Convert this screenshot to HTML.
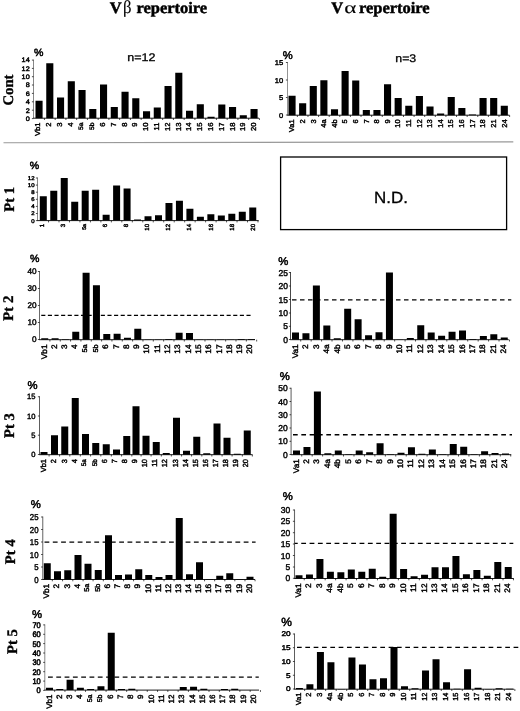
<!DOCTYPE html>
<html lang="en"><head><meta charset="utf-8"><title>V beta and V alpha repertoire</title>
<style>html,body{margin:0;padding:0;background:#fff}body{width:520px;height:711px;overflow:hidden}svg{display:block}.s{font-family:'Liberation Sans', Arial, Helvetica, sans-serif;fill:#000;stroke:#000;stroke-width:.3px}.p{stroke-width:.5px}.b{font-family:'Liberation Serif', 'Times New Roman', Times, serif;font-weight:bold;fill:#000;stroke:#000;stroke-width:.35px}text.t{stroke-width:.45px}.x{font-family:'Liberation Sans', Arial, Helvetica, sans-serif;fill:#000;stroke:#000;stroke-width:.42px}text{text-rendering:geometricPrecision}</style></head><body>
<svg width="520" height="711" viewBox="0 0 520 711" style="filter:blur(.3px)">
<rect width="520" height="711" fill="#fff"/>
<text class="b t" font-size="16" transform="translate(109.7 13.1) scale(1.03 1)">V</text>
<text class="b t" font-size="18" transform="translate(122.9 13.1) scale(0.93 1)" style="font-weight:normal;stroke-width:.12px">β</text>
<text class="b t" font-size="16" transform="translate(136.4 13.1) scale(1.03 1)">repertoire</text>
<text class="b t" font-size="16" transform="translate(331.2 13.1) scale(1.03 1)">V</text>
<text class="b t" font-size="16.5" transform="translate(344.2 13.1) scale(1.4 1)" style="font-weight:normal;stroke-width:.12px">α</text>
<text class="b t" font-size="16" transform="translate(358.9 13.1) scale(1.03 1)">repertoire</text>
<text class="s" font-size="11" transform="translate(127.2 61.2) scale(1.14 1)">n=12</text>
<text class="s" font-size="11" transform="translate(395.3 61.8) scale(1.12 1)">n=3</text>
<path d="M3.5 142.8L513.3 141.9" fill="none" stroke="#999" stroke-width="1.1"/>
<rect x="280.6" y="157" width="226" height="72.6" fill="#fff" stroke="#000" stroke-width="1.3"/>
<text class="s" font-size="16.3" transform="translate(374.1 203) scale(1.04 1)">N.D.</text>
<text class="b" font-size="14.7" text-anchor="middle" transform="translate(13.2 90) rotate(-90)">Cont</text>
<text class="b" font-size="14.7" text-anchor="middle" transform="translate(14.3 199.4) rotate(-90)">Pt 1</text>
<text class="b" font-size="14.7" text-anchor="middle" transform="translate(12.6 308.2) rotate(-90)">Pt 2</text>
<text class="b" font-size="14.7" text-anchor="middle" transform="translate(13.7 425.5) rotate(-90)">Pt 3</text>
<text class="b" font-size="14.7" text-anchor="middle" transform="translate(14.7 551.7) rotate(-90)">Pt 4</text>
<text class="b" font-size="14.7" text-anchor="middle" transform="translate(16.7 641.5) rotate(-90)">Pt 5</text>
<g id="contVb">
<path d="M35.50 118.20H42.60V100.75H35.50ZM46.25 118.20H53.35V63.25H46.25ZM57.00 118.20H64.10V97.50H57.00ZM67.75 118.20H74.85V81.25H67.75ZM78.50 118.20H85.60V90.00H78.50ZM89.25 118.20H96.35V109.00H89.25ZM100.00 118.20H107.10V84.50H100.00ZM110.75 118.20H117.85V107.00H110.75ZM121.50 118.20H128.60V91.75H121.50ZM132.25 118.20H139.35V98.25H132.25ZM143.00 118.20H150.10V111.25H143.00ZM153.75 118.20H160.85V107.50H153.75ZM164.50 118.20H171.60V86.00H164.50ZM175.25 118.20H182.35V72.75H175.25ZM186.00 118.20H193.10V110.75H186.00ZM196.75 118.20H203.85V104.25H196.75ZM207.50 118.20H214.60V116.75H207.50ZM218.25 118.20H225.35V104.50H218.25ZM229.00 118.20H236.10V107.00H229.00ZM239.75 118.20H246.85V115.25H239.75ZM250.50 118.20H257.60V109.00H250.50Z" fill="#000"/>
<path d="M33.50 59.60V118.20" fill="none" stroke="#555" stroke-width="0.7"/>
<path d="M33.20 118.20H259.00" fill="none" stroke="#000" stroke-width="0.9"/>
<path d="M33.50 60.10h-1.6M33.50 68.40h-1.6M33.50 76.70h-1.6M33.50 85.00h-1.6M33.50 93.40h-1.6M33.50 101.80h-1.6M33.50 110.20h-1.6M33.50 118.60h-1.6M44.43 118.20v1.8M55.18 118.20v1.8M65.92 118.20v1.8M76.67 118.20v1.8M87.42 118.20v1.8M98.17 118.20v1.8M108.92 118.20v1.8M119.67 118.20v1.8M130.42 118.20v1.8M141.17 118.20v1.8M151.92 118.20v1.8M162.67 118.20v1.8M173.42 118.20v1.8M184.17 118.20v1.8M194.92 118.20v1.8M205.67 118.20v1.8M216.42 118.20v1.8M227.17 118.20v1.8M237.92 118.20v1.8M248.67 118.20v1.8M259.43 118.20v1.8" fill="none" stroke="#000" stroke-width="0.7"/>
<text class="x" font-size="6.5" text-anchor="end" transform="translate(29.7 62.44) scale(1.12 1)">14</text>
<text class="x" font-size="6.5" text-anchor="end" transform="translate(29.7 70.74) scale(1.12 1)">12</text>
<text class="x" font-size="6.5" text-anchor="end" transform="translate(29.7 79.04) scale(1.12 1)">10</text>
<text class="x" font-size="6.5" text-anchor="end" transform="translate(29.7 87.34) scale(1.12 1)">8</text>
<text class="x" font-size="6.5" text-anchor="end" transform="translate(29.7 95.74) scale(1.12 1)">6</text>
<text class="x" font-size="6.5" text-anchor="end" transform="translate(29.7 104.14) scale(1.12 1)">4</text>
<text class="x" font-size="6.5" text-anchor="end" transform="translate(29.7 112.54) scale(1.12 1)">2</text>
<text class="x" font-size="6.5" text-anchor="end" transform="translate(29.7 120.94) scale(1.12 1)">0</text>
<text class="s p" x="34.1" y="56.3" font-size="10.6">%</text>
<text class="x" font-size="7.2" text-anchor="end" transform="translate(40.08 122.50) rotate(-90) scale(1.06 1)">Vb1</text>
<text class="x" font-size="7.2" text-anchor="end" transform="translate(50.89 122.50) rotate(-90) scale(1.06 1)">2</text>
<text class="x" font-size="7.2" text-anchor="end" transform="translate(61.70 122.50) rotate(-90) scale(1.06 1)">3</text>
<text class="x" font-size="7.2" text-anchor="end" transform="translate(72.51 122.50) rotate(-90) scale(1.06 1)">4</text>
<text class="x" font-size="6.336" text-anchor="end" transform="translate(83.01 122.50) rotate(-90) scale(1.06 1)">5a</text>
<text class="x" font-size="6.336" text-anchor="end" transform="translate(93.82 122.50) rotate(-90) scale(1.06 1)">5b</text>
<text class="x" font-size="7.2" text-anchor="end" transform="translate(104.94 122.50) rotate(-90) scale(1.06 1)">6</text>
<text class="x" font-size="7.2" text-anchor="end" transform="translate(115.75 122.50) rotate(-90) scale(1.06 1)">7</text>
<text class="x" font-size="7.2" text-anchor="end" transform="translate(126.56 122.50) rotate(-90) scale(1.06 1)">8</text>
<text class="x" font-size="7.2" text-anchor="end" transform="translate(137.37 122.50) rotate(-90) scale(1.06 1)">9</text>
<text class="x" font-size="7.2" text-anchor="end" transform="translate(148.18 122.50) rotate(-90) scale(1.06 1)">10</text>
<text class="x" font-size="7.2" text-anchor="end" transform="translate(158.99 122.50) rotate(-90) scale(1.06 1)">11</text>
<text class="x" font-size="7.2" text-anchor="end" transform="translate(169.80 122.50) rotate(-90) scale(1.06 1)">12</text>
<text class="x" font-size="7.2" text-anchor="end" transform="translate(180.61 122.50) rotate(-90) scale(1.06 1)">13</text>
<text class="x" font-size="7.2" text-anchor="end" transform="translate(191.42 122.50) rotate(-90) scale(1.06 1)">14</text>
<text class="x" font-size="7.2" text-anchor="end" transform="translate(202.23 122.50) rotate(-90) scale(1.06 1)">15</text>
<text class="x" font-size="7.2" text-anchor="end" transform="translate(213.04 122.50) rotate(-90) scale(1.06 1)">16</text>
<text class="x" font-size="7.2" text-anchor="end" transform="translate(223.85 122.50) rotate(-90) scale(1.06 1)">17</text>
<text class="x" font-size="7.2" text-anchor="end" transform="translate(234.66 122.50) rotate(-90) scale(1.06 1)">18</text>
<text class="x" font-size="7.2" text-anchor="end" transform="translate(245.47 122.50) rotate(-90) scale(1.06 1)">19</text>
<text class="x" font-size="7.2" text-anchor="end" transform="translate(256.28 122.50) rotate(-90) scale(1.06 1)">20</text>
</g>
<g id="contVa">
<path d="M288.50 115.20H295.60V95.75H288.50ZM299.11 115.20H306.21V103.25H299.11ZM309.73 115.20H316.83V86.00H309.73ZM320.34 115.20H327.44V80.25H320.34ZM330.95 115.20H338.05V109.25H330.95ZM341.56 115.20H348.66V71.00H341.56ZM352.18 115.20H359.28V80.50H352.18ZM362.79 115.20H369.89V110.00H362.79ZM373.40 115.20H380.50V110.00H373.40ZM384.01 115.20H391.11V84.25H384.01ZM394.62 115.20H401.73V98.00H394.62ZM405.24 115.20H412.34V105.75H405.24ZM415.85 115.20H422.95V96.00H415.85ZM426.46 115.20H433.56V106.50H426.46ZM437.07 115.20H444.18V113.50H437.07ZM447.69 115.20H454.79V97.00H447.69ZM458.30 115.20H465.40V108.00H458.30ZM468.91 115.20H476.01V114.60H468.91ZM479.52 115.20H486.62V98.00H479.52ZM490.14 115.20H497.24V98.00H490.14ZM500.75 115.20H507.85V105.75H500.75Z" fill="#000"/>
<path d="M287.50 62.00V115.20" fill="none" stroke="#666" stroke-width="0.7"/>
<path d="M287.20 115.20H509.50" fill="none" stroke="#000" stroke-width="0.9"/>
<path d="M287.50 62.50h-1.6M287.50 80.00h-1.6M287.50 97.50h-1.6M287.50 115.00h-1.6M297.36 115.20v1.8M307.97 115.20v1.8M318.58 115.20v1.8M329.19 115.20v1.8M339.81 115.20v1.8M350.42 115.20v1.8M361.03 115.20v1.8M371.64 115.20v1.8M382.26 115.20v1.8M392.87 115.20v1.8M403.48 115.20v1.8M414.09 115.20v1.8M424.71 115.20v1.8M435.32 115.20v1.8M445.93 115.20v1.8M456.54 115.20v1.8M467.16 115.20v1.8M477.77 115.20v1.8M488.38 115.20v1.8M498.99 115.20v1.8M509.61 115.20v1.8" fill="none" stroke="#000" stroke-width="0.7"/>
<text class="x" font-size="7" text-anchor="end" transform="translate(283.2 65.02) scale(1.08 1)">15</text>
<text class="x" font-size="7" text-anchor="end" transform="translate(283.2 82.52) scale(1.08 1)">10</text>
<text class="x" font-size="7" text-anchor="end" transform="translate(283.2 100.02) scale(1.08 1)">5</text>
<text class="x" font-size="7" text-anchor="end" transform="translate(283.2 117.52) scale(1.08 1)">0</text>
<text class="s p" x="282.7" y="59" font-size="11.2">%</text>
<text class="x" font-size="7.1" text-anchor="end" transform="translate(294.29 119.30) rotate(-90) scale(1.06 1)">Va1</text>
<text class="x" font-size="7.1" text-anchor="end" transform="translate(304.90 119.30) rotate(-90) scale(1.06 1)">2</text>
<text class="x" font-size="7.1" text-anchor="end" transform="translate(315.52 119.30) rotate(-90) scale(1.06 1)">3</text>
<text class="x" font-size="7.1" text-anchor="end" transform="translate(326.13 119.30) rotate(-90) scale(1.06 1)">4a</text>
<text class="x" font-size="7.1" text-anchor="end" transform="translate(336.74 119.30) rotate(-90) scale(1.06 1)">4b</text>
<text class="x" font-size="7.1" text-anchor="end" transform="translate(347.35 119.30) rotate(-90) scale(1.06 1)">5</text>
<text class="x" font-size="7.1" text-anchor="end" transform="translate(357.97 119.30) rotate(-90) scale(1.06 1)">6</text>
<text class="x" font-size="7.1" text-anchor="end" transform="translate(368.58 119.30) rotate(-90) scale(1.06 1)">7</text>
<text class="x" font-size="7.1" text-anchor="end" transform="translate(379.19 119.30) rotate(-90) scale(1.06 1)">8</text>
<text class="x" font-size="7.1" text-anchor="end" transform="translate(389.80 119.30) rotate(-90) scale(1.06 1)">9</text>
<text class="x" font-size="7.1" text-anchor="end" transform="translate(400.42 119.30) rotate(-90) scale(1.06 1)">10</text>
<text class="x" font-size="7.1" text-anchor="end" transform="translate(411.03 119.30) rotate(-90) scale(1.06 1)">11</text>
<text class="x" font-size="7.1" text-anchor="end" transform="translate(421.64 119.30) rotate(-90) scale(1.06 1)">12</text>
<text class="x" font-size="7.1" text-anchor="end" transform="translate(432.25 119.30) rotate(-90) scale(1.06 1)">13</text>
<text class="x" font-size="7.1" text-anchor="end" transform="translate(442.87 119.30) rotate(-90) scale(1.06 1)">14</text>
<text class="x" font-size="7.1" text-anchor="end" transform="translate(453.48 119.30) rotate(-90) scale(1.06 1)">15</text>
<text class="x" font-size="7.1" text-anchor="end" transform="translate(464.09 119.30) rotate(-90) scale(1.06 1)">16</text>
<text class="x" font-size="7.1" text-anchor="end" transform="translate(474.70 119.30) rotate(-90) scale(1.06 1)">17</text>
<text class="x" font-size="7.1" text-anchor="end" transform="translate(485.32 119.30) rotate(-90) scale(1.06 1)">18</text>
<text class="x" font-size="7.1" text-anchor="end" transform="translate(495.93 119.30) rotate(-90) scale(1.06 1)">21</text>
<text class="x" font-size="7.1" text-anchor="end" transform="translate(506.54 119.30) rotate(-90) scale(1.06 1)">24</text>
</g>
<g id="pt1Vb">
<path d="M39.80 220.60H46.80V196.25H39.80ZM50.27 220.60H57.27V190.75H50.27ZM60.74 220.60H67.75V178.00H60.74ZM71.22 220.60H78.22V201.75H71.22ZM81.69 220.60H88.69V190.75H81.69ZM92.16 220.60H99.16V189.75H92.16ZM102.63 220.60H109.63V214.75H102.63ZM113.11 220.60H120.11V185.50H113.11ZM123.58 220.60H130.58V188.50H123.58ZM134.05 220.60H141.05V219.60H134.05ZM144.52 220.60H151.52V216.25H144.52ZM155.00 220.60H162.00V215.25H155.00ZM165.47 220.60H172.47V203.00H165.47ZM175.94 220.60H182.94V200.75H175.94ZM186.41 220.60H193.41V208.75H186.41ZM196.89 220.60H203.89V216.75H196.89ZM207.36 220.60H214.36V214.25H207.36ZM217.83 220.60H224.83V215.50H217.83ZM228.31 220.60H235.31V213.75H228.31ZM238.78 220.60H245.78V211.75H238.78ZM249.25 220.60H256.25V207.50H249.25Z" fill="#000"/>
<path d="M37.50 177.50V220.60" fill="none" stroke="#555" stroke-width="0.7"/>
<path d="M37.20 220.60H258.70" fill="none" stroke="#000" stroke-width="0.9"/>
<path d="M37.50 178.00h-1.6M37.50 185.10h-1.6M37.50 192.20h-1.6M37.50 199.30h-1.6M37.50 206.40h-1.6M37.50 213.50h-1.6M37.50 220.60h-1.6M48.54 220.60v1.8M59.01 220.60v1.8M69.48 220.60v1.8M79.95 220.60v1.8M90.43 220.60v1.8M100.90 220.60v1.8M111.37 220.60v1.8M121.84 220.60v1.8M132.32 220.60v1.8M142.79 220.60v1.8M153.26 220.60v1.8M163.73 220.60v1.8M174.21 220.60v1.8M184.68 220.60v1.8M195.15 220.60v1.8M205.62 220.60v1.8M216.10 220.60v1.8M226.57 220.60v1.8M237.04 220.60v1.8M247.51 220.60v1.8M257.99 220.60v1.8" fill="none" stroke="#000" stroke-width="0.7"/>
<text class="x" font-size="5.5" text-anchor="end" transform="translate(34.6 179.98) scale(1.1 1)">12</text>
<text class="x" font-size="5.5" text-anchor="end" transform="translate(34.6 187.08) scale(1.1 1)">10</text>
<text class="x" font-size="5.5" text-anchor="end" transform="translate(34.6 194.18) scale(1.1 1)">8</text>
<text class="x" font-size="5.5" text-anchor="end" transform="translate(34.6 201.28) scale(1.1 1)">6</text>
<text class="x" font-size="5.5" text-anchor="end" transform="translate(34.6 208.38) scale(1.1 1)">4</text>
<text class="x" font-size="5.5" text-anchor="end" transform="translate(34.6 215.48) scale(1.1 1)">2</text>
<text class="x" font-size="5.5" text-anchor="end" transform="translate(34.6 222.58) scale(1.1 1)">0</text>
<text class="s p" x="29.7" y="169.2" font-size="10.6">%</text>
<text class="x" font-size="6.1" text-anchor="end" transform="translate(43.98 223.90) rotate(-90) scale(1 1)">1</text>
<text class="x" font-size="6.1" text-anchor="end" transform="translate(65.05 223.90) rotate(-90) scale(1 1)">3</text>
<text class="x" font-size="5.368" text-anchor="end" transform="translate(85.86 223.90) rotate(-90) scale(1 1)">5a</text>
<text class="x" font-size="6.1" text-anchor="end" transform="translate(107.19 223.90) rotate(-90) scale(1 1)">6</text>
<text class="x" font-size="6.1" text-anchor="end" transform="translate(128.26 223.90) rotate(-90) scale(1 1)">8</text>
<text class="x" font-size="6.1" text-anchor="end" transform="translate(149.33 223.90) rotate(-90) scale(1 1)">10</text>
<text class="x" font-size="6.1" text-anchor="end" transform="translate(170.40 223.90) rotate(-90) scale(1 1)">12</text>
<text class="x" font-size="6.1" text-anchor="end" transform="translate(191.47 223.90) rotate(-90) scale(1 1)">14</text>
<text class="x" font-size="6.1" text-anchor="end" transform="translate(212.54 223.90) rotate(-90) scale(1 1)">16</text>
<text class="x" font-size="6.1" text-anchor="end" transform="translate(233.61 223.90) rotate(-90) scale(1 1)">18</text>
<text class="x" font-size="6.1" text-anchor="end" transform="translate(254.68 223.90) rotate(-90) scale(1 1)">20</text>
</g>
<g id="pt2Vb">
<path d="M41.25 339.70H48.25V338.25H41.25ZM51.59 339.70H58.59V338.25H51.59ZM61.92 339.70H68.92V339.20H61.92ZM72.26 339.70H79.26V331.75H72.26ZM82.60 339.70H89.60V272.75H82.60ZM92.94 339.70H99.94V285.25H92.94ZM103.28 339.70H110.28V334.00H103.28ZM113.61 339.70H120.61V333.75H113.61ZM123.95 339.70H130.95V337.75H123.95ZM134.29 339.70H141.29V328.75H134.29ZM144.62 339.70H151.62V339.50H144.62ZM154.96 339.70H161.96V339.50H154.96ZM165.30 339.70H172.30V339.00H165.30ZM175.64 339.70H182.64V332.75H175.64ZM185.97 339.70H192.97V333.00H185.97ZM196.31 339.70H203.31V339.50H196.31ZM206.65 339.70H213.65V339.50H206.65ZM216.99 339.70H223.99V339.50H216.99ZM227.32 339.70H234.32V339.50H227.32ZM237.66 339.70H244.66V339.00H237.66ZM248.00 339.70H255.00V339.00H248.00Z" fill="#000"/>
<path d="M39.50 271.00V339.70" fill="none" stroke="#444" stroke-width="0.8"/>
<path d="M39.20 339.70H255.00" fill="none" stroke="#000" stroke-width="0.9"/>
<path d="M39.50 271.50h-1.6M39.50 288.50h-1.6M39.50 305.50h-1.6M39.50 322.50h-1.6M39.50 339.50h-1.6M49.92 339.70v1.8M60.26 339.70v1.8M70.59 339.70v1.8M80.93 339.70v1.8M91.27 339.70v1.8M101.61 339.70v1.8M111.94 339.70v1.8M122.28 339.70v1.8M132.62 339.70v1.8M142.96 339.70v1.8M153.29 339.70v1.8M163.63 339.70v1.8M173.97 339.70v1.8M184.31 339.70v1.8M194.64 339.70v1.8M204.98 339.70v1.8M215.32 339.70v1.8M225.66 339.70v1.8M235.99 339.70v1.8M246.33 339.70v1.8M256.67 339.70v1.8" fill="none" stroke="#000" stroke-width="0.7"/>
<text class="x" font-size="8.2" text-anchor="end" transform="translate(36.5 274.45) scale(1 1)">40</text>
<text class="x" font-size="8.2" text-anchor="end" transform="translate(36.5 291.45) scale(1 1)">30</text>
<text class="x" font-size="8.2" text-anchor="end" transform="translate(36.5 308.45) scale(1 1)">20</text>
<text class="x" font-size="8.2" text-anchor="end" transform="translate(36.5 325.45) scale(1 1)">10</text>
<text class="x" font-size="8.2" text-anchor="end" transform="translate(36.5 342.45) scale(1 1)">0</text>
<text class="s p" x="29.9" y="262.1" font-size="10.6">%</text>
<text class="x" font-size="8" text-anchor="end" transform="translate(46.61 344.50) rotate(-90) scale(1.03 1)">Vb1</text>
<text class="x" font-size="8" text-anchor="end" transform="translate(56.90 344.50) rotate(-90) scale(1.03 1)">2</text>
<text class="x" font-size="8" text-anchor="end" transform="translate(67.19 344.50) rotate(-90) scale(1.03 1)">3</text>
<text class="x" font-size="8" text-anchor="end" transform="translate(77.48 344.50) rotate(-90) scale(1.03 1)">4</text>
<text class="x" font-size="7.04" text-anchor="end" transform="translate(87.42 344.50) rotate(-90) scale(1.03 1)">5a</text>
<text class="x" font-size="7.04" text-anchor="end" transform="translate(97.71 344.50) rotate(-90) scale(1.03 1)">5b</text>
<text class="x" font-size="8" text-anchor="end" transform="translate(108.34 344.50) rotate(-90) scale(1.03 1)">6</text>
<text class="x" font-size="8" text-anchor="end" transform="translate(118.63 344.50) rotate(-90) scale(1.03 1)">7</text>
<text class="x" font-size="8" text-anchor="end" transform="translate(128.91 344.50) rotate(-90) scale(1.03 1)">8</text>
<text class="x" font-size="8" text-anchor="end" transform="translate(139.20 344.50) rotate(-90) scale(1.03 1)">9</text>
<text class="x" font-size="8" text-anchor="end" transform="translate(149.49 344.50) rotate(-90) scale(1.03 1)">10</text>
<text class="x" font-size="8" text-anchor="end" transform="translate(159.78 344.50) rotate(-90) scale(1.03 1)">11</text>
<text class="x" font-size="8" text-anchor="end" transform="translate(170.06 344.50) rotate(-90) scale(1.03 1)">12</text>
<text class="x" font-size="8" text-anchor="end" transform="translate(180.35 344.50) rotate(-90) scale(1.03 1)">13</text>
<text class="x" font-size="8" text-anchor="end" transform="translate(190.64 344.50) rotate(-90) scale(1.03 1)">14</text>
<text class="x" font-size="8" text-anchor="end" transform="translate(200.93 344.50) rotate(-90) scale(1.03 1)">15</text>
<text class="x" font-size="8" text-anchor="end" transform="translate(211.21 344.50) rotate(-90) scale(1.03 1)">16</text>
<text class="x" font-size="8" text-anchor="end" transform="translate(221.50 344.50) rotate(-90) scale(1.03 1)">17</text>
<text class="x" font-size="8" text-anchor="end" transform="translate(231.79 344.50) rotate(-90) scale(1.03 1)">18</text>
<text class="x" font-size="8" text-anchor="end" transform="translate(242.08 344.50) rotate(-90) scale(1.03 1)">19</text>
<text class="x" font-size="8" text-anchor="end" transform="translate(252.36 344.50) rotate(-90) scale(1.03 1)">20</text>
<path d="M41.25 315.40H251.80" fill="none" stroke="#000" stroke-width="1.3" stroke-dasharray="4.1 2.52" stroke-dashoffset="0.00"/>
</g>
<g id="pt2Va">
<path d="M292.00 339.70H299.00V332.50H292.00ZM302.44 339.70H309.44V333.25H302.44ZM312.88 339.70H319.88V285.50H312.88ZM323.31 339.70H330.31V325.50H323.31ZM333.75 339.70H340.75V338.25H333.75ZM344.19 339.70H351.19V308.75H344.19ZM354.62 339.70H361.62V319.25H354.62ZM365.06 339.70H372.06V335.25H365.06ZM375.50 339.70H382.50V332.25H375.50ZM385.94 339.70H392.94V272.50H385.94ZM396.38 339.70H403.38V339.40H396.38ZM406.81 339.70H413.81V338.00H406.81ZM417.25 339.70H424.25V325.25H417.25ZM427.69 339.70H434.69V332.50H427.69ZM438.12 339.70H445.12V335.75H438.12ZM448.56 339.70H455.56V331.75H448.56ZM459.00 339.70H466.00V330.50H459.00ZM469.44 339.70H476.44V339.00H469.44ZM479.88 339.70H486.88V336.00H479.88ZM490.31 339.70H497.31V334.25H490.31ZM500.75 339.70H507.75V337.50H500.75Z" fill="#000"/>
<path d="M290.50 272.00V339.70" fill="none" stroke="#333" stroke-width="0.9"/>
<path d="M290.20 339.70H508.75" fill="none" stroke="#000" stroke-width="0.9"/>
<path d="M290.50 272.50h-1.6M290.50 286.00h-1.6M290.50 299.50h-1.6M290.50 313.00h-1.6M290.50 326.30h-1.6M290.50 339.50h-1.6M300.72 339.70v1.8M311.16 339.70v1.8M321.59 339.70v1.8M332.03 339.70v1.8M342.47 339.70v1.8M352.91 339.70v1.8M363.34 339.70v1.8M373.78 339.70v1.8M384.22 339.70v1.8M394.66 339.70v1.8M405.09 339.70v1.8M415.53 339.70v1.8M425.97 339.70v1.8M436.41 339.70v1.8M446.84 339.70v1.8M457.28 339.70v1.8M467.72 339.70v1.8M478.16 339.70v1.8M488.59 339.70v1.8M499.03 339.70v1.8M509.47 339.70v1.8" fill="none" stroke="#000" stroke-width="0.7"/>
<text class="x" font-size="8.5" text-anchor="end" transform="translate(288 275.56) scale(1 1)">25</text>
<text class="x" font-size="8.5" text-anchor="end" transform="translate(288 289.06) scale(1 1)">20</text>
<text class="x" font-size="8.5" text-anchor="end" transform="translate(288 302.56) scale(1 1)">15</text>
<text class="x" font-size="8.5" text-anchor="end" transform="translate(288 316.06) scale(1 1)">10</text>
<text class="x" font-size="8.5" text-anchor="end" transform="translate(288 329.36) scale(1 1)">5</text>
<text class="x" font-size="8.5" text-anchor="end" transform="translate(288 342.56) scale(1 1)">0</text>
<text class="s p" x="278.3" y="265.1" font-size="11.3">%</text>
<text class="x" font-size="8" text-anchor="end" transform="translate(298.06 344.30) rotate(-90) scale(1.03 1)">Va1</text>
<text class="x" font-size="8" text-anchor="end" transform="translate(308.47 344.30) rotate(-90) scale(1.03 1)">2</text>
<text class="x" font-size="8" text-anchor="end" transform="translate(318.87 344.30) rotate(-90) scale(1.03 1)">3</text>
<text class="x" font-size="8" text-anchor="end" transform="translate(329.27 344.30) rotate(-90) scale(1.03 1)">4a</text>
<text class="x" font-size="8" text-anchor="end" transform="translate(339.67 344.30) rotate(-90) scale(1.03 1)">4b</text>
<text class="x" font-size="8" text-anchor="end" transform="translate(350.08 344.30) rotate(-90) scale(1.03 1)">5</text>
<text class="x" font-size="8" text-anchor="end" transform="translate(360.48 344.30) rotate(-90) scale(1.03 1)">6</text>
<text class="x" font-size="8" text-anchor="end" transform="translate(370.88 344.30) rotate(-90) scale(1.03 1)">7</text>
<text class="x" font-size="8" text-anchor="end" transform="translate(381.28 344.30) rotate(-90) scale(1.03 1)">8</text>
<text class="x" font-size="8" text-anchor="end" transform="translate(391.69 344.30) rotate(-90) scale(1.03 1)">9</text>
<text class="x" font-size="8" text-anchor="end" transform="translate(402.09 344.30) rotate(-90) scale(1.03 1)">10</text>
<text class="x" font-size="8" text-anchor="end" transform="translate(412.49 344.30) rotate(-90) scale(1.03 1)">11</text>
<text class="x" font-size="8" text-anchor="end" transform="translate(422.89 344.30) rotate(-90) scale(1.03 1)">12</text>
<text class="x" font-size="8" text-anchor="end" transform="translate(433.30 344.30) rotate(-90) scale(1.03 1)">13</text>
<text class="x" font-size="8" text-anchor="end" transform="translate(443.70 344.30) rotate(-90) scale(1.03 1)">14</text>
<text class="x" font-size="8" text-anchor="end" transform="translate(454.10 344.30) rotate(-90) scale(1.03 1)">15</text>
<text class="x" font-size="8" text-anchor="end" transform="translate(464.50 344.30) rotate(-90) scale(1.03 1)">16</text>
<text class="x" font-size="8" text-anchor="end" transform="translate(474.91 344.30) rotate(-90) scale(1.03 1)">17</text>
<text class="x" font-size="8" text-anchor="end" transform="translate(485.31 344.30) rotate(-90) scale(1.03 1)">18</text>
<text class="x" font-size="8" text-anchor="end" transform="translate(495.71 344.30) rotate(-90) scale(1.03 1)">21</text>
<text class="x" font-size="8" text-anchor="end" transform="translate(506.11 344.30) rotate(-90) scale(1.03 1)">24</text>
<path d="M292.00 299.90H511.30" fill="none" stroke="#000" stroke-width="1.3" stroke-dasharray="4.5 3.5" stroke-dashoffset="0.00"/>
</g>
<g id="pt3Vb">
<path d="M40.50 454.70H47.50V452.00H40.50ZM51.00 454.70H58.00V435.25H51.00ZM61.25 454.70H68.25V426.50H61.25ZM71.75 454.70H78.75V398.00H71.75ZM82.00 454.70H89.00V434.00H82.00ZM92.25 454.70H99.25V443.00H92.25ZM102.75 454.70H109.75V444.25H102.75ZM113.00 454.70H120.00V449.50H113.00ZM123.25 454.70H130.25V436.00H123.25ZM132.50 454.70H139.50V406.25H132.50ZM142.50 454.70H149.50V435.75H142.50ZM152.75 454.70H159.75V442.00H152.75ZM162.75 454.70H169.75V453.00H162.75ZM173.00 454.70H180.00V417.75H173.00ZM183.00 454.70H190.00V450.75H183.00ZM193.25 454.70H200.25V436.75H193.25ZM203.25 454.70H210.25V453.25H203.25ZM213.50 454.70H220.50V423.50H213.50ZM223.50 454.70H230.50V437.75H223.50ZM233.75 454.70H240.75V453.75H233.75ZM243.75 454.70H250.75V430.50H243.75Z" fill="#000"/>
<path d="M39.50 396.25V454.70" fill="none" stroke="#333" stroke-width="0.8"/>
<path d="M39.20 454.70H252.50" fill="none" stroke="#000" stroke-width="0.9"/>
<path d="M39.50 396.75h-1.6M39.50 416.00h-1.6M39.50 435.20h-1.6M39.50 454.50h-1.6M49.08 454.70v1.8M59.58 454.70v1.8M69.83 454.70v1.8M80.33 454.70v1.8M90.58 454.70v1.8M100.83 454.70v1.8M111.33 454.70v1.8M121.58 454.70v1.8M131.83 454.70v1.8M141.08 454.70v1.8M151.08 454.70v1.8M161.33 454.70v1.8M171.33 454.70v1.8M181.58 454.70v1.8M191.58 454.70v1.8M201.83 454.70v1.8M211.83 454.70v1.8M222.08 454.70v1.8M232.08 454.70v1.8M242.33 454.70v1.8M252.33 454.70v1.8" fill="none" stroke="#000" stroke-width="0.7"/>
<text class="x" font-size="7.6" text-anchor="end" transform="translate(35.4 399.49) scale(1 1)">15</text>
<text class="x" font-size="7.6" text-anchor="end" transform="translate(35.4 418.74) scale(1 1)">10</text>
<text class="x" font-size="7.6" text-anchor="end" transform="translate(35.4 437.94) scale(1 1)">5</text>
<text class="x" font-size="7.6" text-anchor="end" transform="translate(35.4 457.24) scale(1 1)">0</text>
<text class="s p" x="27.5" y="388.9" font-size="11.3">%</text>
<text class="x" font-size="7.4" text-anchor="end" transform="translate(46.40 459.10) rotate(-90) scale(1 1)">Vb1</text>
<text class="x" font-size="7.4" text-anchor="end" transform="translate(56.49 459.10) rotate(-90) scale(1 1)">2</text>
<text class="x" font-size="7.4" text-anchor="end" transform="translate(66.57 459.10) rotate(-90) scale(1 1)">3</text>
<text class="x" font-size="7.4" text-anchor="end" transform="translate(76.66 459.10) rotate(-90) scale(1 1)">4</text>
<text class="x" font-size="6.512" text-anchor="end" transform="translate(86.43 459.10) rotate(-90) scale(1 1)">5a</text>
<text class="x" font-size="6.512" text-anchor="end" transform="translate(96.52 459.10) rotate(-90) scale(1 1)">5b</text>
<text class="x" font-size="7.4" text-anchor="end" transform="translate(106.92 459.10) rotate(-90) scale(1 1)">6</text>
<text class="x" font-size="7.4" text-anchor="end" transform="translate(117.01 459.10) rotate(-90) scale(1 1)">7</text>
<text class="x" font-size="7.4" text-anchor="end" transform="translate(127.10 459.10) rotate(-90) scale(1 1)">8</text>
<text class="x" font-size="7.4" text-anchor="end" transform="translate(137.19 459.10) rotate(-90) scale(1 1)">9</text>
<text class="x" font-size="7.4" text-anchor="end" transform="translate(147.27 459.10) rotate(-90) scale(1 1)">10</text>
<text class="x" font-size="7.4" text-anchor="end" transform="translate(157.36 459.10) rotate(-90) scale(1 1)">11</text>
<text class="x" font-size="7.4" text-anchor="end" transform="translate(167.45 459.10) rotate(-90) scale(1 1)">12</text>
<text class="x" font-size="7.4" text-anchor="end" transform="translate(177.54 459.10) rotate(-90) scale(1 1)">13</text>
<text class="x" font-size="7.4" text-anchor="end" transform="translate(187.62 459.10) rotate(-90) scale(1 1)">14</text>
<text class="x" font-size="7.4" text-anchor="end" transform="translate(197.71 459.10) rotate(-90) scale(1 1)">15</text>
<text class="x" font-size="7.4" text-anchor="end" transform="translate(207.80 459.10) rotate(-90) scale(1 1)">16</text>
<text class="x" font-size="7.4" text-anchor="end" transform="translate(217.89 459.10) rotate(-90) scale(1 1)">17</text>
<text class="x" font-size="7.4" text-anchor="end" transform="translate(227.97 459.10) rotate(-90) scale(1 1)">18</text>
<text class="x" font-size="7.4" text-anchor="end" transform="translate(238.06 459.10) rotate(-90) scale(1 1)">19</text>
<text class="x" font-size="7.4" text-anchor="end" transform="translate(248.15 459.10) rotate(-90) scale(1 1)">20</text>
</g>
<g id="pt3Va">
<path d="M293.00 454.70H300.00V450.50H293.00ZM303.45 454.70H310.45V447.00H303.45ZM313.90 454.70H320.90V391.50H313.90ZM324.35 454.70H331.35V453.25H324.35ZM334.80 454.70H341.80V450.50H334.80ZM345.25 454.70H352.25V454.30H345.25ZM355.70 454.70H362.70V450.50H355.70ZM366.15 454.70H373.15V452.25H366.15ZM376.60 454.70H383.60V443.25H376.60ZM387.05 454.70H394.05V454.30H387.05ZM397.50 454.70H404.50V452.75H397.50ZM407.95 454.70H414.95V447.25H407.95ZM418.40 454.70H425.40V453.70H418.40ZM428.85 454.70H435.85V449.50H428.85ZM439.30 454.70H446.30V454.30H439.30ZM449.75 454.70H456.75V444.00H449.75ZM460.20 454.70H467.20V446.75H460.20ZM470.65 454.70H477.65V454.30H470.65ZM481.10 454.70H488.10V451.25H481.10ZM491.55 454.70H498.55V453.00H491.55ZM502.00 454.70H509.00V453.50H502.00Z" fill="#000"/>
<path d="M291.10 387.75V454.70" fill="none" stroke="#777" stroke-width="1.2"/>
<path d="M290.80 454.70H511.25" fill="none" stroke="#000" stroke-width="0.9"/>
<path d="M291.10 388.25h-1.6M291.10 401.50h-1.6M291.10 414.75h-1.6M291.10 428.00h-1.6M291.10 441.30h-1.6M291.10 454.50h-1.6M301.73 454.70v1.8M312.18 454.70v1.8M322.62 454.70v1.8M333.08 454.70v1.8M343.53 454.70v1.8M353.98 454.70v1.8M364.43 454.70v1.8M374.88 454.70v1.8M385.33 454.70v1.8M395.78 454.70v1.8M406.23 454.70v1.8M416.68 454.70v1.8M427.12 454.70v1.8M437.58 454.70v1.8M448.03 454.70v1.8M458.48 454.70v1.8M468.93 454.70v1.8M479.38 454.70v1.8M489.83 454.70v1.8M500.28 454.70v1.8M510.73 454.70v1.8" fill="none" stroke="#000" stroke-width="0.7"/>
<text class="x" font-size="8.5" text-anchor="end" transform="translate(287.7 391.31) scale(1 1)">50</text>
<text class="x" font-size="8.5" text-anchor="end" transform="translate(287.7 404.56) scale(1 1)">40</text>
<text class="x" font-size="8.5" text-anchor="end" transform="translate(287.7 417.81) scale(1 1)">30</text>
<text class="x" font-size="8.5" text-anchor="end" transform="translate(287.7 431.06) scale(1 1)">20</text>
<text class="x" font-size="8.5" text-anchor="end" transform="translate(287.7 444.36) scale(1 1)">10</text>
<text class="x" font-size="8.5" text-anchor="end" transform="translate(287.7 457.56) scale(1 1)">0</text>
<text class="s p" x="279.7" y="380.2" font-size="11.3">%</text>
<text class="x" font-size="8" text-anchor="end" transform="translate(298.61 459.10) rotate(-90) scale(1.03 1)">Va1</text>
<text class="x" font-size="8" text-anchor="end" transform="translate(309.05 459.10) rotate(-90) scale(1.03 1)">2</text>
<text class="x" font-size="8" text-anchor="end" transform="translate(319.48 459.10) rotate(-90) scale(1.03 1)">3</text>
<text class="x" font-size="8" text-anchor="end" transform="translate(329.91 459.10) rotate(-90) scale(1.03 1)">4a</text>
<text class="x" font-size="8" text-anchor="end" transform="translate(340.34 459.10) rotate(-90) scale(1.03 1)">4b</text>
<text class="x" font-size="8" text-anchor="end" transform="translate(350.78 459.10) rotate(-90) scale(1.03 1)">5</text>
<text class="x" font-size="8" text-anchor="end" transform="translate(361.21 459.10) rotate(-90) scale(1.03 1)">6</text>
<text class="x" font-size="8" text-anchor="end" transform="translate(371.64 459.10) rotate(-90) scale(1.03 1)">7</text>
<text class="x" font-size="8" text-anchor="end" transform="translate(382.07 459.10) rotate(-90) scale(1.03 1)">8</text>
<text class="x" font-size="8" text-anchor="end" transform="translate(392.51 459.10) rotate(-90) scale(1.03 1)">9</text>
<text class="x" font-size="8" text-anchor="end" transform="translate(402.94 459.10) rotate(-90) scale(1.03 1)">10</text>
<text class="x" font-size="8" text-anchor="end" transform="translate(413.37 459.10) rotate(-90) scale(1.03 1)">11</text>
<text class="x" font-size="8" text-anchor="end" transform="translate(423.80 459.10) rotate(-90) scale(1.03 1)">12</text>
<text class="x" font-size="8" text-anchor="end" transform="translate(434.24 459.10) rotate(-90) scale(1.03 1)">13</text>
<text class="x" font-size="8" text-anchor="end" transform="translate(444.67 459.10) rotate(-90) scale(1.03 1)">14</text>
<text class="x" font-size="8" text-anchor="end" transform="translate(455.10 459.10) rotate(-90) scale(1.03 1)">15</text>
<text class="x" font-size="8" text-anchor="end" transform="translate(465.53 459.10) rotate(-90) scale(1.03 1)">16</text>
<text class="x" font-size="8" text-anchor="end" transform="translate(475.97 459.10) rotate(-90) scale(1.03 1)">17</text>
<text class="x" font-size="8" text-anchor="end" transform="translate(486.40 459.10) rotate(-90) scale(1.03 1)">18</text>
<text class="x" font-size="8" text-anchor="end" transform="translate(496.83 459.10) rotate(-90) scale(1.03 1)">21</text>
<text class="x" font-size="8" text-anchor="end" transform="translate(507.26 459.10) rotate(-90) scale(1.03 1)">24</text>
<path d="M293.00 434.75H512.00" fill="none" stroke="#000" stroke-width="1.3" stroke-dasharray="4.7 3.63" stroke-dashoffset="0.00"/>
</g>
<g id="pt4Vb">
<path d="M43.75 579.50H50.75V563.25H43.75ZM54.00 579.50H61.00V571.25H54.00ZM64.25 579.50H71.25V570.25H64.25ZM74.50 579.50H81.50V555.00H74.50ZM84.50 579.50H91.50V563.75H84.50ZM94.75 579.50H101.75V570.00H94.75ZM105.00 579.50H112.00V535.25H105.00ZM115.00 579.50H122.00V575.00H115.00ZM125.00 579.50H132.00V574.50H125.00ZM135.25 579.50H142.25V569.25H135.25ZM145.25 579.50H152.25V575.00H145.25ZM155.50 579.50H162.50V577.00H155.50ZM165.50 579.50H172.50V575.00H165.50ZM175.75 579.50H182.75V518.00H175.75ZM186.00 579.50H193.00V574.25H186.00ZM196.00 579.50H203.00V562.25H196.00ZM206.10 579.50H213.10V579.00H206.10ZM216.25 579.50H223.25V575.75H216.25ZM226.25 579.50H233.25V573.25H226.25ZM236.40 579.50H243.40V579.00H236.40ZM246.50 579.50H253.50V576.75H246.50Z" fill="#000"/>
<path d="M42.70 516.50V579.50" fill="none" stroke="#888" stroke-width="1.3"/>
<path d="M42.40 579.50H255.00" fill="none" stroke="#000" stroke-width="0.9"/>
<path d="M42.70 517.00h-1.6M42.70 529.50h-1.6M42.70 542.00h-1.6M42.70 554.50h-1.6M42.70 567.00h-1.6M42.70 579.50h-1.6M52.32 579.50v1.8M62.57 579.50v1.8M72.82 579.50v1.8M83.07 579.50v1.8M93.07 579.50v1.8M103.32 579.50v1.8M113.57 579.50v1.8M123.57 579.50v1.8M133.57 579.50v1.8M143.82 579.50v1.8M153.82 579.50v1.8M164.07 579.50v1.8M174.07 579.50v1.8M184.32 579.50v1.8M194.57 579.50v1.8M204.57 579.50v1.8M214.67 579.50v1.8M224.82 579.50v1.8M234.82 579.50v1.8M244.97 579.50v1.8M255.07 579.50v1.8" fill="none" stroke="#000" stroke-width="0.7"/>
<text class="x" font-size="8.5" text-anchor="end" transform="translate(38.5 520.06) scale(0.92 1)">25</text>
<text class="x" font-size="8.5" text-anchor="end" transform="translate(38.5 532.56) scale(0.92 1)">20</text>
<text class="x" font-size="8.5" text-anchor="end" transform="translate(38.5 545.06) scale(0.92 1)">15</text>
<text class="x" font-size="8.5" text-anchor="end" transform="translate(38.5 557.56) scale(0.92 1)">10</text>
<text class="x" font-size="8.5" text-anchor="end" transform="translate(38.5 570.06) scale(0.92 1)">5</text>
<text class="x" font-size="8.5" text-anchor="end" transform="translate(38.5 582.56) scale(0.92 1)">0</text>
<text class="s p" x="30.8" y="507.8" font-size="11.3">%</text>
<text class="x" font-size="8" text-anchor="end" transform="translate(49.36 583.80) rotate(-90) scale(1.03 1)">Vb1</text>
<text class="x" font-size="8" text-anchor="end" transform="translate(59.48 583.80) rotate(-90) scale(1.03 1)">2</text>
<text class="x" font-size="8" text-anchor="end" transform="translate(69.59 583.80) rotate(-90) scale(1.03 1)">3</text>
<text class="x" font-size="8" text-anchor="end" transform="translate(79.71 583.80) rotate(-90) scale(1.03 1)">4</text>
<text class="x" font-size="7.04" text-anchor="end" transform="translate(89.48 583.80) rotate(-90) scale(1.03 1)">5a</text>
<text class="x" font-size="7.04" text-anchor="end" transform="translate(99.60 583.80) rotate(-90) scale(1.03 1)">5b</text>
<text class="x" font-size="8" text-anchor="end" transform="translate(110.05 583.80) rotate(-90) scale(1.03 1)">6</text>
<text class="x" font-size="8" text-anchor="end" transform="translate(120.17 583.80) rotate(-90) scale(1.03 1)">7</text>
<text class="x" font-size="8" text-anchor="end" transform="translate(130.28 583.80) rotate(-90) scale(1.03 1)">8</text>
<text class="x" font-size="8" text-anchor="end" transform="translate(140.40 583.80) rotate(-90) scale(1.03 1)">9</text>
<text class="x" font-size="8" text-anchor="end" transform="translate(150.51 583.80) rotate(-90) scale(1.03 1)">10</text>
<text class="x" font-size="8" text-anchor="end" transform="translate(160.63 583.80) rotate(-90) scale(1.03 1)">11</text>
<text class="x" font-size="8" text-anchor="end" transform="translate(170.74 583.80) rotate(-90) scale(1.03 1)">12</text>
<text class="x" font-size="8" text-anchor="end" transform="translate(180.86 583.80) rotate(-90) scale(1.03 1)">13</text>
<text class="x" font-size="8" text-anchor="end" transform="translate(190.97 583.80) rotate(-90) scale(1.03 1)">14</text>
<text class="x" font-size="8" text-anchor="end" transform="translate(201.09 583.80) rotate(-90) scale(1.03 1)">15</text>
<text class="x" font-size="8" text-anchor="end" transform="translate(211.20 583.80) rotate(-90) scale(1.03 1)">16</text>
<text class="x" font-size="8" text-anchor="end" transform="translate(221.32 583.80) rotate(-90) scale(1.03 1)">17</text>
<text class="x" font-size="8" text-anchor="end" transform="translate(231.43 583.80) rotate(-90) scale(1.03 1)">18</text>
<text class="x" font-size="8" text-anchor="end" transform="translate(241.55 583.80) rotate(-90) scale(1.03 1)">19</text>
<text class="x" font-size="8" text-anchor="end" transform="translate(251.66 583.80) rotate(-90) scale(1.03 1)">20</text>
<path d="M44.50 542.20H255.60" fill="none" stroke="#000" stroke-width="1.3" stroke-dasharray="4.8 3.5" stroke-dashoffset="0.00"/>
</g>
<g id="pt4Va">
<path d="M295.50 578.50H302.50V575.25H295.50ZM305.96 578.50H312.96V574.50H305.96ZM316.43 578.50H323.43V559.00H316.43ZM326.89 578.50H333.89V571.75H326.89ZM337.35 578.50H344.35V572.25H337.35ZM347.81 578.50H354.81V569.50H347.81ZM358.27 578.50H365.27V571.75H358.27ZM368.74 578.50H375.74V568.75H368.74ZM379.20 578.50H386.20V576.75H379.20ZM389.66 578.50H396.66V513.75H389.66ZM400.12 578.50H407.12V569.00H400.12ZM410.59 578.50H417.59V576.25H410.59ZM421.05 578.50H428.05V574.75H421.05ZM431.51 578.50H438.51V567.25H431.51ZM441.98 578.50H448.98V567.25H441.98ZM452.44 578.50H459.44V556.00H452.44ZM462.90 578.50H469.90V574.25H462.90ZM473.36 578.50H480.36V570.00H473.36ZM483.82 578.50H490.82V575.75H483.82ZM494.29 578.50H501.29V562.00H494.29ZM504.75 578.50H511.75V567.00H504.75Z" fill="#000"/>
<path d="M294.50 509.50V578.50" fill="none" stroke="#666" stroke-width="1.1"/>
<path d="M294.20 578.50H513.75" fill="none" stroke="#000" stroke-width="0.9"/>
<path d="M294.50 510.00h-1.6M294.50 521.30h-1.6M294.50 532.70h-1.6M294.50 544.00h-1.6M294.50 555.50h-1.6M294.50 567.00h-1.6M294.50 578.30h-1.6M304.23 578.50v1.8M314.69 578.50v1.8M325.16 578.50v1.8M335.62 578.50v1.8M346.08 578.50v1.8M356.54 578.50v1.8M367.01 578.50v1.8M377.47 578.50v1.8M387.93 578.50v1.8M398.39 578.50v1.8M408.86 578.50v1.8M419.32 578.50v1.8M429.78 578.50v1.8M440.24 578.50v1.8M450.71 578.50v1.8M461.17 578.50v1.8M471.63 578.50v1.8M482.09 578.50v1.8M492.56 578.50v1.8M503.02 578.50v1.8M513.48 578.50v1.8" fill="none" stroke="#000" stroke-width="0.7"/>
<text class="x" font-size="8.5" text-anchor="end" transform="translate(290.3 513.06) scale(1 1)">30</text>
<text class="x" font-size="8.5" text-anchor="end" transform="translate(290.3 524.36) scale(1 1)">25</text>
<text class="x" font-size="8.5" text-anchor="end" transform="translate(290.3 535.76) scale(1 1)">20</text>
<text class="x" font-size="8.5" text-anchor="end" transform="translate(290.3 547.06) scale(1 1)">15</text>
<text class="x" font-size="8.5" text-anchor="end" transform="translate(290.3 558.56) scale(1 1)">10</text>
<text class="x" font-size="8.5" text-anchor="end" transform="translate(290.3 570.06) scale(1 1)">5</text>
<text class="x" font-size="8.5" text-anchor="end" transform="translate(290.3 581.36) scale(1 1)">0</text>
<text class="s p" x="282.7" y="500.1" font-size="11.3">%</text>
<text class="x" font-size="8" text-anchor="end" transform="translate(300.76 583.50) rotate(-90) scale(1.03 1)">Va1</text>
<text class="x" font-size="8" text-anchor="end" transform="translate(311.24 583.50) rotate(-90) scale(1.03 1)">2</text>
<text class="x" font-size="8" text-anchor="end" transform="translate(321.72 583.50) rotate(-90) scale(1.03 1)">3</text>
<text class="x" font-size="8" text-anchor="end" transform="translate(332.20 583.50) rotate(-90) scale(1.03 1)">4a</text>
<text class="x" font-size="8" text-anchor="end" transform="translate(342.68 583.50) rotate(-90) scale(1.03 1)">4b</text>
<text class="x" font-size="8" text-anchor="end" transform="translate(353.16 583.50) rotate(-90) scale(1.03 1)">5</text>
<text class="x" font-size="8" text-anchor="end" transform="translate(363.64 583.50) rotate(-90) scale(1.03 1)">6</text>
<text class="x" font-size="8" text-anchor="end" transform="translate(374.12 583.50) rotate(-90) scale(1.03 1)">7</text>
<text class="x" font-size="8" text-anchor="end" transform="translate(384.60 583.50) rotate(-90) scale(1.03 1)">8</text>
<text class="x" font-size="8" text-anchor="end" transform="translate(395.08 583.50) rotate(-90) scale(1.03 1)">9</text>
<text class="x" font-size="8" text-anchor="end" transform="translate(405.56 583.50) rotate(-90) scale(1.03 1)">10</text>
<text class="x" font-size="8" text-anchor="end" transform="translate(416.04 583.50) rotate(-90) scale(1.03 1)">11</text>
<text class="x" font-size="8" text-anchor="end" transform="translate(426.52 583.50) rotate(-90) scale(1.03 1)">12</text>
<text class="x" font-size="8" text-anchor="end" transform="translate(437.00 583.50) rotate(-90) scale(1.03 1)">13</text>
<text class="x" font-size="8" text-anchor="end" transform="translate(447.48 583.50) rotate(-90) scale(1.03 1)">14</text>
<text class="x" font-size="8" text-anchor="end" transform="translate(457.96 583.50) rotate(-90) scale(1.03 1)">15</text>
<text class="x" font-size="8" text-anchor="end" transform="translate(468.44 583.50) rotate(-90) scale(1.03 1)">16</text>
<text class="x" font-size="8" text-anchor="end" transform="translate(478.92 583.50) rotate(-90) scale(1.03 1)">17</text>
<text class="x" font-size="8" text-anchor="end" transform="translate(489.40 583.50) rotate(-90) scale(1.03 1)">18</text>
<text class="x" font-size="8" text-anchor="end" transform="translate(499.88 583.50) rotate(-90) scale(1.03 1)">21</text>
<text class="x" font-size="8" text-anchor="end" transform="translate(510.36 583.50) rotate(-90) scale(1.03 1)">24</text>
<path d="M294.70 543.40H513.30" fill="none" stroke="#000" stroke-width="1.3" stroke-dasharray="4.8 3.53" stroke-dashoffset="1.78"/>
</g>
<g id="pt5Vb">
<path d="M46.00 690.10H53.00V687.75H46.00ZM56.29 690.10H63.29V689.00H56.29ZM66.58 690.10H73.58V679.75H66.58ZM76.87 690.10H83.87V687.75H76.87ZM87.16 690.10H94.16V689.00H87.16ZM97.45 690.10H104.45V686.25H97.45ZM107.74 690.10H114.74V632.75H107.74ZM118.03 690.10H125.03V689.00H118.03ZM128.32 690.10H135.32V688.80H128.32ZM179.77 690.10H186.77V687.00H179.77ZM190.06 690.10H197.06V686.75H190.06ZM200.35 690.10H207.35V688.80H200.35ZM220.93 690.10H227.93V689.00H220.93ZM231.22 690.10H238.22V688.80H231.22Z" fill="#000"/>
<path d="M44.80 624.40V690.10" fill="none" stroke="#888" stroke-width="1"/>
<path d="M44.50 690.10H259.00" fill="none" stroke="#000" stroke-width="0.9"/>
<path d="M44.80 624.90h-1.6M44.80 634.30h-1.6M44.80 643.60h-1.6M44.80 653.00h-1.6M44.80 662.40h-1.6M44.80 671.70h-1.6M44.80 681.10h-1.6M44.80 690.40h-1.6M54.65 690.10v1.8M64.94 690.10v1.8M75.22 690.10v1.8M85.52 690.10v1.8M95.80 690.10v1.8M106.09 690.10v1.8M116.39 690.10v1.8M126.67 690.10v1.8M136.97 690.10v1.8M147.26 690.10v1.8M157.55 690.10v1.8M167.84 690.10v1.8M178.13 690.10v1.8M188.42 690.10v1.8M198.71 690.10v1.8M209.00 690.10v1.8M219.29 690.10v1.8M229.58 690.10v1.8M239.87 690.10v1.8M250.16 690.10v1.8M260.44 690.10v1.8" fill="none" stroke="#000" stroke-width="0.7"/>
<text class="x" font-size="8.1" text-anchor="end" transform="translate(40.8 627.82) scale(0.93 1)" style="stroke-width:0.55px">70</text>
<text class="x" font-size="8.1" text-anchor="end" transform="translate(40.8 637.22) scale(0.93 1)" style="stroke-width:0.55px">60</text>
<text class="x" font-size="8.1" text-anchor="end" transform="translate(40.8 646.52) scale(0.93 1)" style="stroke-width:0.55px">50</text>
<text class="x" font-size="8.1" text-anchor="end" transform="translate(40.8 655.92) scale(0.93 1)" style="stroke-width:0.55px">40</text>
<text class="x" font-size="8.1" text-anchor="end" transform="translate(40.8 665.32) scale(0.93 1)" style="stroke-width:0.55px">30</text>
<text class="x" font-size="8.1" text-anchor="end" transform="translate(40.8 674.62) scale(0.93 1)" style="stroke-width:0.55px">20</text>
<text class="x" font-size="8.1" text-anchor="end" transform="translate(40.8 684.02) scale(0.93 1)" style="stroke-width:0.55px">10</text>
<text class="x" font-size="8.1" text-anchor="end" transform="translate(40.8 693.32) scale(0.93 1)" style="stroke-width:0.55px">0</text>
<text class="s p" x="32.1" y="617.6" font-size="11.3">%</text>
<text class="x" font-size="7.8" text-anchor="end" transform="translate(51.54 694.50) rotate(-90) scale(1.03 1)">Vb1</text>
<text class="x" font-size="7.8" text-anchor="end" transform="translate(61.75 694.50) rotate(-90) scale(1.03 1)">2</text>
<text class="x" font-size="7.8" text-anchor="end" transform="translate(71.97 694.50) rotate(-90) scale(1.03 1)">3</text>
<text class="x" font-size="7.8" text-anchor="end" transform="translate(82.18 694.50) rotate(-90) scale(1.03 1)">4</text>
<text class="x" font-size="6.864" text-anchor="end" transform="translate(92.06 694.50) rotate(-90) scale(1.03 1)">5a</text>
<text class="x" font-size="6.864" text-anchor="end" transform="translate(102.27 694.50) rotate(-90) scale(1.03 1)">5b</text>
<text class="x" font-size="7.8" text-anchor="end" transform="translate(112.82 694.50) rotate(-90) scale(1.03 1)">6</text>
<text class="x" font-size="7.8" text-anchor="end" transform="translate(123.03 694.50) rotate(-90) scale(1.03 1)">7</text>
<text class="x" font-size="7.8" text-anchor="end" transform="translate(133.24 694.50) rotate(-90) scale(1.03 1)">8</text>
<text class="x" font-size="7.8" text-anchor="end" transform="translate(143.45 694.50) rotate(-90) scale(1.03 1)">9</text>
<text class="x" font-size="7.8" text-anchor="end" transform="translate(153.67 694.50) rotate(-90) scale(1.03 1)">10</text>
<text class="x" font-size="7.8" text-anchor="end" transform="translate(163.88 694.50) rotate(-90) scale(1.03 1)">11</text>
<text class="x" font-size="7.8" text-anchor="end" transform="translate(174.09 694.50) rotate(-90) scale(1.03 1)">12</text>
<text class="x" font-size="7.8" text-anchor="end" transform="translate(184.30 694.50) rotate(-90) scale(1.03 1)">13</text>
<text class="x" font-size="7.8" text-anchor="end" transform="translate(194.52 694.50) rotate(-90) scale(1.03 1)">14</text>
<text class="x" font-size="7.8" text-anchor="end" transform="translate(204.73 694.50) rotate(-90) scale(1.03 1)">15</text>
<text class="x" font-size="7.8" text-anchor="end" transform="translate(214.94 694.50) rotate(-90) scale(1.03 1)">16</text>
<text class="x" font-size="7.8" text-anchor="end" transform="translate(225.15 694.50) rotate(-90) scale(1.03 1)">17</text>
<text class="x" font-size="7.8" text-anchor="end" transform="translate(235.37 694.50) rotate(-90) scale(1.03 1)">18</text>
<text class="x" font-size="7.8" text-anchor="end" transform="translate(245.58 694.50) rotate(-90) scale(1.03 1)">19</text>
<text class="x" font-size="7.8" text-anchor="end" transform="translate(255.79 694.50) rotate(-90) scale(1.03 1)">20</text>
<path d="M48.00 677.20H258.80" fill="none" stroke="#000" stroke-width="1.3" stroke-dasharray="4.8 3.5" stroke-dashoffset="0.00"/>
</g>
<g id="pt5Va">
<path d="M295.90 689.20H302.90V688.00H295.90ZM306.41 689.20H313.41V684.25H306.41ZM316.92 689.20H323.92V652.00H316.92ZM327.43 689.20H334.43V662.25H327.43ZM337.94 689.20H344.94V689.00H337.94ZM348.45 689.20H355.45V657.50H348.45ZM358.96 689.20H365.96V664.50H358.96ZM369.47 689.20H376.47V679.25H369.47ZM379.98 689.20H386.98V678.25H379.98ZM390.49 689.20H397.49V647.00H390.49ZM401.00 689.20H408.00V686.25H401.00ZM411.51 689.20H418.51V688.25H411.51ZM422.02 689.20H429.02V670.50H422.02ZM432.53 689.20H439.53V659.25H432.53ZM443.04 689.20H450.04V682.25H443.04ZM453.55 689.20H460.55V688.80H453.55ZM464.06 689.20H471.06V669.25H464.06ZM474.57 689.20H481.57V687.75H474.57ZM485.08 689.20H492.08V689.00H485.08ZM495.59 689.20H502.59V688.25H495.59ZM506.10 689.20H513.10V688.80H506.10Z" fill="#000"/>
<path d="M294.50 633.50V689.20" fill="none" stroke="#333" stroke-width="0.8"/>
<path d="M294.20 689.20H514.25" fill="none" stroke="#000" stroke-width="0.9"/>
<path d="M294.50 634.00h-1.6M294.50 647.70h-1.6M294.50 661.50h-1.6M294.50 675.25h-1.6M294.50 689.00h-1.6M304.65 689.20v1.8M315.16 689.20v1.8M325.67 689.20v1.8M336.19 689.20v1.8M346.69 689.20v1.8M357.20 689.20v1.8M367.71 689.20v1.8M378.23 689.20v1.8M388.74 689.20v1.8M399.25 689.20v1.8M409.75 689.20v1.8M420.26 689.20v1.8M430.77 689.20v1.8M441.28 689.20v1.8M451.80 689.20v1.8M462.31 689.20v1.8M472.81 689.20v1.8M483.32 689.20v1.8M493.84 689.20v1.8M504.35 689.20v1.8M514.86 689.20v1.8" fill="none" stroke="#000" stroke-width="0.7"/>
<text class="x" font-size="6.9" text-anchor="end" transform="translate(290.6 636.48) scale(1.2 1)">20</text>
<text class="x" font-size="6.9" text-anchor="end" transform="translate(290.6 650.18) scale(1.2 1)">15</text>
<text class="x" font-size="6.9" text-anchor="end" transform="translate(290.6 663.98) scale(1.2 1)">10</text>
<text class="x" font-size="6.9" text-anchor="end" transform="translate(290.6 677.73) scale(1.2 1)">5</text>
<text class="x" font-size="6.9" text-anchor="end" transform="translate(290.6 691.48) scale(1.2 1)">0</text>
<text class="s p" x="281.3" y="625.7" font-size="12">%</text>
<text class="x" font-size="7.3" text-anchor="end" transform="translate(300.61 692.70) rotate(-90) scale(1 1)">Va1</text>
<text class="x" font-size="7.3" text-anchor="end" transform="translate(311.11 692.70) rotate(-90) scale(1 1)">2</text>
<text class="x" font-size="7.3" text-anchor="end" transform="translate(321.61 692.70) rotate(-90) scale(1 1)">3</text>
<text class="x" font-size="7.3" text-anchor="end" transform="translate(332.11 692.70) rotate(-90) scale(1 1)">4a</text>
<text class="x" font-size="7.3" text-anchor="end" transform="translate(342.61 692.70) rotate(-90) scale(1 1)">4b</text>
<text class="x" font-size="7.3" text-anchor="end" transform="translate(353.11 692.70) rotate(-90) scale(1 1)">5</text>
<text class="x" font-size="7.3" text-anchor="end" transform="translate(363.61 692.70) rotate(-90) scale(1 1)">6</text>
<text class="x" font-size="7.3" text-anchor="end" transform="translate(374.11 692.70) rotate(-90) scale(1 1)">7</text>
<text class="x" font-size="7.3" text-anchor="end" transform="translate(384.61 692.70) rotate(-90) scale(1 1)">8</text>
<text class="x" font-size="7.3" text-anchor="end" transform="translate(395.11 692.70) rotate(-90) scale(1 1)">9</text>
<text class="x" font-size="7.3" text-anchor="end" transform="translate(405.61 692.70) rotate(-90) scale(1 1)">10</text>
<text class="x" font-size="7.3" text-anchor="end" transform="translate(416.11 692.70) rotate(-90) scale(1 1)">11</text>
<text class="x" font-size="7.3" text-anchor="end" transform="translate(426.61 692.70) rotate(-90) scale(1 1)">12</text>
<text class="x" font-size="7.3" text-anchor="end" transform="translate(437.11 692.70) rotate(-90) scale(1 1)">13</text>
<text class="x" font-size="7.3" text-anchor="end" transform="translate(447.61 692.70) rotate(-90) scale(1 1)">14</text>
<text class="x" font-size="7.3" text-anchor="end" transform="translate(458.11 692.70) rotate(-90) scale(1 1)">15</text>
<text class="x" font-size="7.3" text-anchor="end" transform="translate(468.61 692.70) rotate(-90) scale(1 1)">16</text>
<text class="x" font-size="7.3" text-anchor="end" transform="translate(479.11 692.70) rotate(-90) scale(1 1)">17</text>
<text class="x" font-size="7.3" text-anchor="end" transform="translate(489.61 692.70) rotate(-90) scale(1 1)">18</text>
<text class="x" font-size="7.3" text-anchor="end" transform="translate(500.11 692.70) rotate(-90) scale(1 1)">21</text>
<text class="x" font-size="7.3" text-anchor="end" transform="translate(510.61 692.70) rotate(-90) scale(1 1)">24</text>
<path d="M297.00 647.30H520.00" fill="none" stroke="#000" stroke-width="1.3" stroke-dasharray="4.7 3.63" stroke-dashoffset="0.00"/>
</g>
</svg></body></html>
